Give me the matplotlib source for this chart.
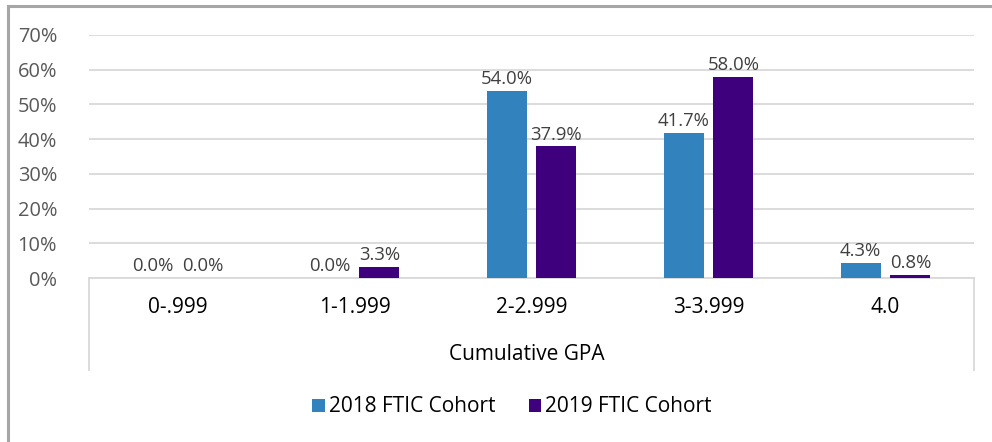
import matplotlib
matplotlib.use("Agg")
import matplotlib.pyplot as plt
from matplotlib.lines import Line2D
from matplotlib.patches import Patch
from matplotlib.ticker import FuncFormatter
import numpy as np

categories = ["0-.999", "1-1.999", "2-2.999", "3-3.999", "4.0"]
cohort_2018 = [0.0, 0.0, 54.0, 41.7, 4.3]
cohort_2019 = [0.0, 3.3, 37.9, 58.0, 0.8]
series_names = ["2018 FTIC Cohort", "2019 FTIC Cohort"]
yticks = [0, 10, 20, 30, 40, 50, 60, 70]
axis_title = "Cumulative GPA"

plt.rcParams['font.family'] = ['Open Sans', 'DejaVu Sans']

W, H = 992, 442
fig = plt.figure(figsize=(W / 100, H / 100), dpi=100)
fig.patch.set_facecolor("white")

left, right, bottom, top = 89, 974, 278, 35
ax = fig.add_axes([left / W, 1 - bottom / H, (right - left) / W, (bottom - top) / H])

c18 = "#3182BD"
c19 = "#3F007D"
x = np.arange(len(categories))
bw = 0.226
off = 0.141
b1 = ax.bar(x - off, cohort_2018, bw, color=c18, zorder=3)
b2 = ax.bar(x + off, cohort_2019, bw, color=c19, zorder=3)

for bars, vals in ((b1, cohort_2018), (b2, cohort_2019)):
    for rect, v in zip(bars, vals):
        ax.annotate(f"{v:.1f}%", (rect.get_x() + rect.get_width() / 2, v),
                    xytext=(0, 2), textcoords="offset points",
                    ha="center", va="bottom", fontsize=13.3, color="#404040", zorder=4)

ax.set_xlim(-0.5, len(categories) - 0.5)
ax.set_ylim(0, 70)
ax.set_yticks(yticks)
ax.yaxis.set_major_formatter(FuncFormatter(lambda v, p: f"{v:.0f}%"))
ax.grid(axis="y", color="#d9d9d9", linewidth=1.3, zorder=0)
for s in ("top", "right", "left"):
    ax.spines[s].set_visible(False)
ax.spines["bottom"].set_color("#d9d9d9")
ax.spines["bottom"].set_linewidth(1.3)
ax.tick_params(axis="y", length=0, pad=23, labelsize=14.4, labelcolor="#595959")
ax.set_xticks(x)
ax.set_xticklabels(categories)
ax.tick_params(axis="x", length=0, pad=14, labelsize=15, labelcolor="#000000")

# outer category-level box lines
ybot = -(370 - 278) / (bottom - top)
for xe in (0, 1):
    ax.plot([xe, xe], [0, ybot], transform=ax.transAxes, color="#d9d9d9",
            linewidth=1.3, clip_on=False)

fig.text((left + right) / 2 / W - 0.005, 1 - 355 / H, axis_title, ha="center", va="center",
         fontsize=15, color="#000000")

handles = [Patch(facecolor=c18), Patch(facecolor=c19)]
fig.legend(handles, series_names, loc="center", bbox_to_anchor=(0.516, 1 - 407 / H),
           ncol=2, frameon=False, fontsize=15, handlelength=0.6, handleheight=0.6,
           handletextpad=0.2, columnspacing=1.6)

# chart-area border (cropped)
fig.add_artist(Line2D([8 / W, 8 / W], [0, 1 - 6 / H], color="#a6a6a6", linewidth=2.2,
                      transform=fig.transFigure))
fig.add_artist(Line2D([8 / W, 1], [1 - 6 / H, 1 - 6 / H], color="#a6a6a6", linewidth=2.2,
                      transform=fig.transFigure))

fig.savefig("out.png", dpi=100, facecolor="white")
